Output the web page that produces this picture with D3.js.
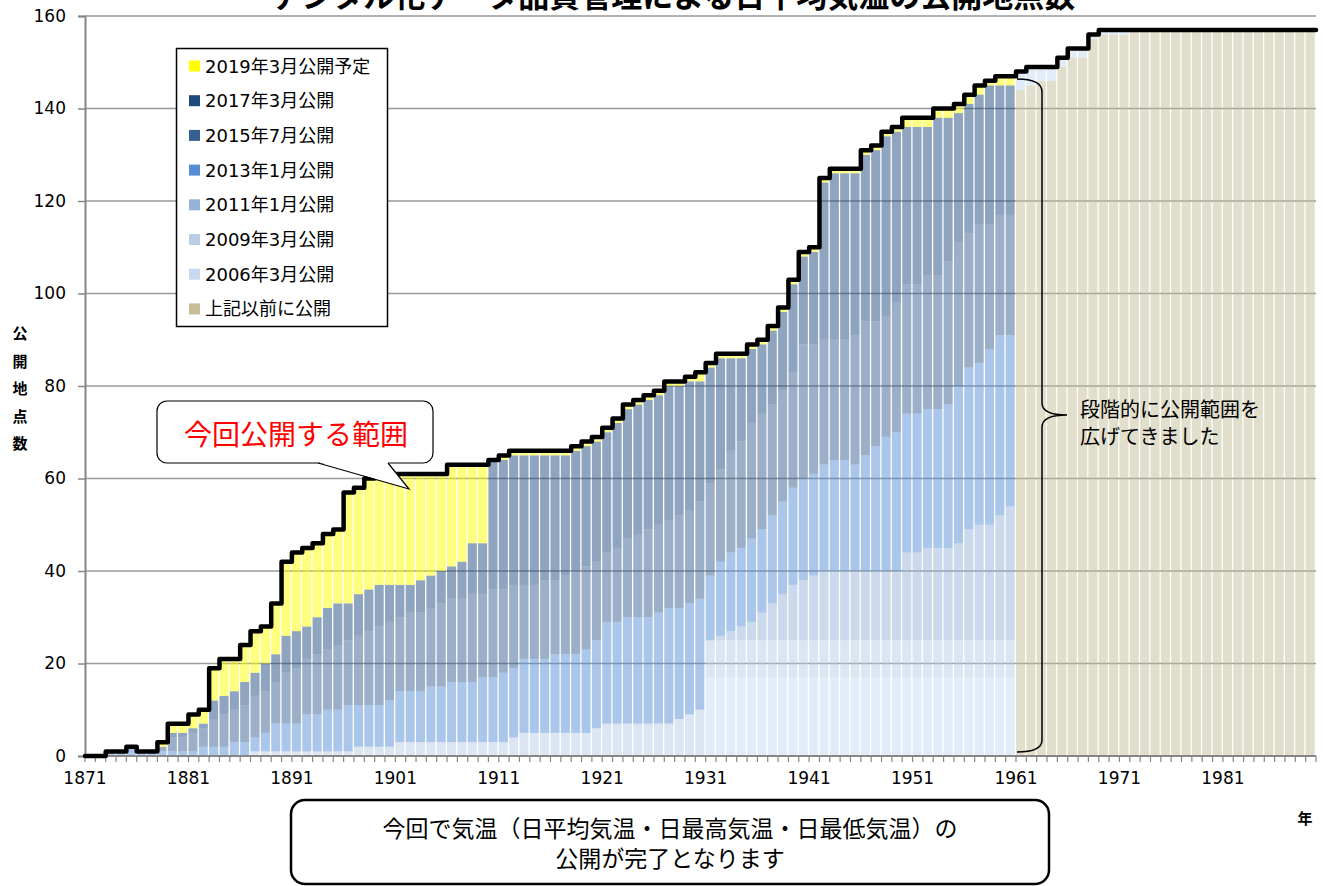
<!DOCTYPE html>
<html lang="ja">
<head>
<meta charset="utf-8">
<title>日平均気温の公開地点数</title>
<style>
body {
  margin: 0;
  background: #fff;
}
svg {
  display: block;
  font-family: "DejaVu Sans", "Noto Sans CJK JP", sans-serif;
}
</style>
</head>
<body>
<div id="chart"></div>
<script src="https://d3js.org/d3.v7.min.js"></script>
<script>

// one category per year, 1871 - 1989
var years = d3.range(1871, 1990);
var tickYears = [1871, 1881, 1891, 1901, 1911, 1921, 1931, 1941, 1951, 1961, 1971, 1981];
var yTicks = [0, 20, 40, 60, 80, 100, 120, 140, 160];

// number of stations per year, one array per release (bottom of the stack first)
var prior = [
  0,0,0,0,0,0,0,0,0,0,
  0,0,0,0,0,0,0,0,0,0,
  0,0,0,0,0,0,0,0,0,0,
  0,0,0,0,0,0,0,0,0,0,
  0,0,0,0,0,0,0,0,0,0,
  0,0,0,0,0,0,0,0,0,0,
  0,0,0,0,0,0,0,0,0,0,
  0,0,0,0,0,0,0,0,0,0,
  0,0,0,0,0,0,0,0,0,0,
  144,145,146,146,149,151,151,155,156,156,
  156,157,157,157,157,157,157,157,157,157,
  157,157,157,157,157,157,157,157,157
];
var s2006 = [
  0,0,0,0,0,0,0,0,0,0,
  0,0,0,0,0,0,0,0,0,0,
  0,0,0,0,0,0,0,0,0,0,
  0,0,0,0,0,0,0,0,0,0,
  0,0,0,0,0,0,0,0,0,0,
  0,0,0,0,0,0,0,0,0,0,
  17,17,17,17,17,17,17,17,17,17,
  17,17,17,17,17,17,17,17,17,17,
  17,17,17,17,17,17,17,17,17,17,
  4,4,3,3,2,2,2,1,1,1,
  1,0,0,0,0,0,0,0,0,0,
  0,0,0,0,0,0,0,0,0
];
var s2009 = [
  0,0,0,0,0,0,0,0,0,0,
  0,0,0,0,0,0,1,1,1,1,
  1,1,1,1,1,1,2,2,2,2,
  3,3,3,3,3,3,3,3,3,3,
  3,4,5,5,5,5,5,5,5,6,
  7,7,7,7,7,7,7,8,9,10,
  8,8,8,8,8,8,8,8,8,8,
  8,8,8,8,8,8,8,8,8,8,
  8,8,8,8,8,8,8,8,8,8,
  0,0,0,0,0,0,0,0,0,0,
  0,0,0,0,0,0,0,0,0,0,
  0,0,0,0,0,0,0,0,0
];
var s2011 = [
  0,0,0,0,0,0,0,0,0,0,
  0,0,0,0,0,0,0,0,0,0,
  0,0,0,0,0,0,0,0,0,0,
  0,0,0,0,0,0,0,0,0,0,
  0,0,0,0,0,0,0,0,0,0,
  0,0,0,0,0,0,0,0,0,0,
  0,1,2,3,4,6,8,10,12,13,
  14,15,15,15,15,15,15,15,15,19,
  19,20,20,20,21,24,25,25,27,29,
  0,0,0,0,0,0,0,0,0,0,
  0,0,0,0,0,0,0,0,0,0,
  0,0,0,0,0,0,0,0,0
];
var s2013 = [
  0,0,1,1,2,1,1,1,1,1,
  1,2,2,2,3,3,3,4,6,6,
  6,8,8,9,9,10,9,9,9,10,
  11,11,11,12,12,13,13,13,14,14,
  15,15,16,16,16,17,17,17,18,19,
  22,22,23,23,23,24,25,24,24,24,
  14,16,17,17,18,18,19,20,21,22,
  22,23,24,24,23,25,27,29,30,30,
  30,30,30,31,34,35,35,38,39,37,
  0,0,0,0,0,0,0,0,0,0,
  0,0,0,0,0,0,0,0,0,0,
  0,0,0,0,0,0,0,0,0
];
var s2015 = [
  0,0,0,0,0,0,0,1,3,3,
  4,4,6,7,7,8,9,9,9,11,
  12,12,13,13,14,14,15,16,17,17,
  16,17,17,17,18,18,18,19,18,19,
  18,18,16,16,17,16,17,18,18,17,
  15,16,17,18,19,19,19,20,20,21,
  20,20,22,23,25,25,24,24,25,29,
  28,27,26,26,28,29,27,26,28,28,
  28,29,29,31,31,29,30,27,26,26,
  0,0,0,0,0,0,0,0,0,0,
  0,0,0,0,0,0,0,0,0,0,
  0,0,0,0,0,0,0,0,0
];
var s2017 = [
  0,0,0,0,0,0,0,0,1,1,
  1,1,4,4,4,5,5,6,6,8,
  8,7,8,9,9,8,9,9,9,8,
  7,6,7,7,7,7,8,11,11,28,
  28,28,28,28,27,27,26,26,26,26,
  26,27,28,28,28,28,29,28,28,26,
  25,24,20,18,16,15,16,17,19,19,
  20,34,36,36,35,36,37,39,37,34,
  34,32,34,31,28,28,28,30,28,28,
  0,0,0,0,0,0,0,0,0,0,
  0,0,0,0,0,0,0,0,0,0,
  0,0,0,0,0,0,0,0,0
];
var s2019 = [
  0,0,0,0,0,0,0,1,2,2,
  3,3,7,8,7,8,9,8,11,16,
  17,17,16,16,16,24,23,24,24,24,
  24,24,23,22,21,22,21,17,17,0,
  1,1,1,1,1,1,1,1,1,1,
  1,1,1,1,1,1,1,1,1,2,
  1,1,1,1,1,1,1,1,1,1,
  1,1,1,1,1,1,1,1,1,2,
  2,2,2,2,2,2,2,1,2,2,
  0,0,0,0,0,0,0,0,0,0,
  0,0,0,0,0,0,0,0,0,0,
  0,0,0,0,0,0,0,0,0
];

var keys = ["prior", "s2006", "s2009", "s2011", "s2013", "s2015", "s2017", "s2019"];
var labels = {
  prior: "上記以前に公開",
  s2006: "2006年3月公開",
  s2009: "2009年3月公開",
  s2011: "2011年1月公開",
  s2013: "2013年1月公開",
  s2015: "2015年7月公開",
  s2017: "2017年3月公開",
  s2019: "2019年3月公開予定"
};
var colors = {
  prior: "#c4bd97",
  s2006: "#c6d9f1",
  s2009: "#b9cde5",
  s2011: "#95b3d7",
  s2013: "#558ed5",
  s2015: "#376092",
  s2017: "#1f497d",
  s2019: "#ffff00"
};
var seriesData = { prior: prior, s2006: s2006, s2009: s2009, s2011: s2011,
  s2013: s2013, s2015: s2015, s2017: s2017, s2019: s2019 };

var table = years.map(function(yr, i) {
  var row = { year: yr };
  keys.forEach(function(k) { row[k] = seriesData[k][i]; });
  return row;
});

var width = 1325, height = 886;
var plotLeft = 85, plotRight = 1316, plotTop = 16, plotBottom = 756;

var svg = d3.select("#chart").append("svg")
  .attr("width", width)
  .attr("height", height);

var x = d3.scaleBand().domain(years).range([plotLeft, plotRight]).padding(0);
var y = d3.scaleLinear().domain([0, 160]).range([plotBottom, plotTop]);

// gridlines
svg.append("g").selectAll("line")
  .data(yTicks.slice(1))
  .enter().append("line")
  .attr("x1", plotLeft).attr("x2", plotRight)
  .attr("y1", function(d) { return y(d); })
  .attr("y2", function(d) { return y(d); })
  .attr("stroke", "#999")
  .attr("stroke-width", 1.5);

// stacked bars, see-through like the original
var stacked = d3.stack().keys(keys)(table);

svg.append("g").selectAll("g")
  .data(stacked)
  .enter().append("g")
  .attr("fill", function(d) { return colors[d.key]; })
  .attr("fill-opacity", 0.5)
  .selectAll("rect")
  .data(function(d) { return d; })
  .enter().append("rect")
  .attr("x", function(d) { return x(d.data.year); })
  .attr("width", x.bandwidth() - 1.3)
  .attr("y", function(d) { return y(d[1]); })
  .attr("height", function(d) { return y(d[0]) - y(d[1]); });

// axes
var yAxis = d3.axisLeft(y).tickValues(yTicks).tickSize(7).tickPadding(12);
var gy = svg.append("g").attr("transform", "translate(" + plotLeft + ",0)").call(yAxis);
gy.select(".domain").attr("stroke", "#868686").attr("stroke-width", 2);
gy.selectAll(".tick line").attr("stroke", "#868686").attr("stroke-width", 1.5);
gy.selectAll("text").attr("font-size", 17).attr("fill", "#000")
  .attr("font-family", "DejaVu Sans");

var gx = svg.append("g").attr("transform", "translate(0," + plotBottom + ")");
gx.append("line")
  .attr("x1", plotLeft).attr("x2", plotRight)
  .attr("stroke", "#868686").attr("stroke-width", 2);
gx.selectAll(".yt")
  .data(years.concat([1990]))
  .enter().append("line")
  .attr("class", "yt")
  .attr("x1", function(d) { return d == 1990 ? plotRight : x(d); })
  .attr("x2", function(d) { return d == 1990 ? plotRight : x(d); })
  .attr("y1", 0).attr("y2", 6)
  .attr("stroke", "#868686").attr("stroke-width", 1.2);
gx.selectAll("text")
  .data(tickYears)
  .enter().append("text")
  .attr("x", function(d) { return x(d); })
  .attr("y", 28)
  .attr("text-anchor", "middle")
  .attr("font-size", 17)
  .text(function(d) { return d; });

// total line
var totals = table.map(function(d) {
  return d3.sum(keys, function(k) { return d[k]; });
});
var pts = years.map(function(yr, i) { return [x(yr), y(totals[i])]; });
pts.push([plotRight, y(totals[totals.length - 1])]);

svg.append("path")
  .datum(pts)
  .attr("fill", "none")
  .attr("stroke", "#000")
  .attr("stroke-width", 4.5)
  .attr("stroke-linejoin", "round")
  .attr("stroke-linecap", "round")
  .attr("d", d3.line().curve(d3.curveStepAfter));

// title (cut at the top edge)
svg.append("text")
  .attr("x", 673).attr("y", 7)
  .attr("text-anchor", "middle")
  .attr("font-size", 31)
  .attr("font-weight", "bold")
  .attr("font-family", "Noto Sans CJK JP")
  .text("デジタル化データ品質管理による日平均気温の公開地点数");

// axis titles
svg.append("g").selectAll("text")
  .data(["公", "開", "地", "点", "数"])
  .enter().append("text")
  .attr("x", 20)
  .attr("y", function(d, i) { return 339 + i * 27.5; })
  .attr("text-anchor", "middle")
  .attr("font-size", 15)
  .attr("font-weight", "bold")
  .attr("font-family", "Noto Sans CJK JP")
  .text(function(d) { return d; });

svg.append("text")
  .attr("x", 1305).attr("y", 824)
  .attr("text-anchor", "middle")
  .attr("font-size", 15)
  .attr("font-weight", "bold")
  .attr("font-family", "Noto Sans CJK JP")
  .text("年");

// legend
var legendKeys = keys.slice().reverse();
var legend = svg.append("g");
legend.append("rect")
  .attr("x", 176.5).attr("y", 48.5)
  .attr("width", 211).attr("height", 278)
  .attr("fill", "#fff")
  .attr("stroke", "#000")
  .attr("stroke-width", 1.5);
var item = legend.selectAll(".item")
  .data(legendKeys)
  .enter().append("g")
  .attr("transform", function(d, i) { return "translate(189," + (66 + i * 34.7) + ")"; });
item.append("rect")
  .attr("x", 0).attr("y", -5.5)
  .attr("width", 11).attr("height", 11)
  .attr("fill", function(d) { return colors[d]; });
item.append("text")
  .attr("x", 16).attr("y", 6.5)
  .attr("font-size", 18)
  .text(function(d) { return labels[d]; });

// callout: 今回公開する範囲
var call = svg.append("g");
call.append("rect")
  .attr("x", 157).attr("y", 401)
  .attr("width", 276).attr("height", 62)
  .attr("rx", 10)
  .attr("fill", "#fff")
  .attr("stroke", "#000")
  .attr("stroke-width", 1.2);
call.append("path")
  .attr("d", "M318,462 L409,489 L388,462 Z")
  .attr("fill", "#fff");
call.append("path")
  .attr("d", "M318,463 L409,489 L388,463")
  .attr("fill", "none")
  .attr("stroke", "#000")
  .attr("stroke-width", 1.2);
call.append("text")
  .attr("x", 296).attr("y", 445)
  .attr("text-anchor", "middle")
  .attr("font-size", 28)
  .attr("fill", "#ff0000")
  .attr("font-family", "Noto Sans CJK JP")
  .text("今回公開する範囲");

// brace and note
svg.append("path")
  .attr("d", "M1017,79 Q1042,79 1042,92 L1042,403 Q1042,415 1067,415 Q1042,415 1042,427 L1042,740 Q1042,752 1017,752")
  .attr("fill", "none")
  .attr("stroke", "#000")
  .attr("stroke-width", 1.5);

svg.append("g").selectAll("text")
  .data(["段階的に公開範囲を", "広げてきました"])
  .enter().append("text")
  .attr("x", 1080)
  .attr("y", function(d, i) { return 417 + i * 27; })
  .attr("font-size", 20)
  .attr("font-family", "Noto Sans CJK JP")
  .text(function(d) { return d; });

// bottom box
var box = svg.append("g");
box.append("rect")
  .attr("x", 291).attr("y", 800)
  .attr("width", 758).attr("height", 84)
  .attr("rx", 14)
  .attr("fill", "#fff")
  .attr("stroke", "#000")
  .attr("stroke-width", 2.5);
box.selectAll("text")
  .data(["今回で気温（日平均気温・日最高気温・日最低気温）の", "公開が完了となります"])
  .enter().append("text")
  .attr("x", 670)
  .attr("y", function(d, i) { return 837 + i * 30; })
  .attr("text-anchor", "middle")
  .attr("font-size", 23)
  .attr("font-family", "Noto Sans CJK JP")
  .text(function(d) { return d; });

</script>
</body>
</html>
